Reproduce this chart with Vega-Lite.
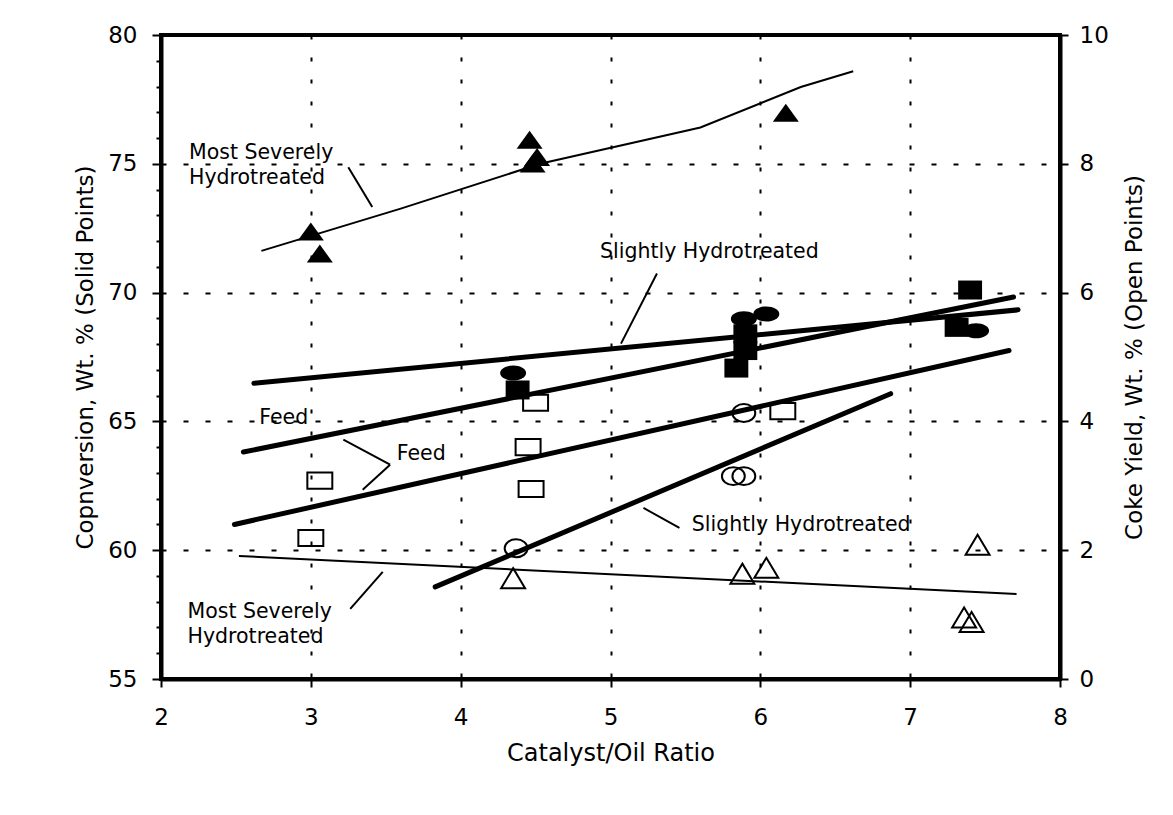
{
  "$schema": "https://vega.github.io/schema/vega-lite/v6.json",
  "width": 899,
  "height": 644,
  "autosize": {"type": "none"},
  "padding": {"left": 161, "top": 35, "right": 113, "bottom": 136},
  "background": "white",
  "config": {
    "font": "DejaVu Sans",
    "view": {"stroke": "black", "strokeWidth": 4},
    "axis": {
      "domainColor": "black",
      "domainWidth": 4,
      "tickColor": "black",
      "tickWidth": 2,
      "labelColor": "black",
      "labelFont": "DejaVu Sans",
      "labelFontSize": 23,
      "titleColor": "black",
      "titleFont": "DejaVu Sans",
      "titleFontSize": 23,
      "titleFontWeight": "normal",
      "gridColor": "black",
      "gridWidth": 2,
      "labelFlush": false,
      "labelOverlap": false,
      "labelBound": false
    }
  },
  "datasets": {
    "solid": [
      {"series": "Feed", "ratio": 4.38, "conversion": 66.22},
      {"series": "Feed", "ratio": 5.84, "conversion": 67.07},
      {"series": "Feed", "ratio": 5.9, "conversion": 67.75},
      {"series": "Feed", "ratio": 5.9, "conversion": 68.4},
      {"series": "Feed", "ratio": 7.31, "conversion": 68.65},
      {"series": "Feed", "ratio": 7.4, "conversion": 70.1},
      {"series": "Slightly Hydrotreated", "ratio": 4.35, "conversion": 66.88},
      {"series": "Slightly Hydrotreated", "ratio": 5.89, "conversion": 68.98},
      {"series": "Slightly Hydrotreated", "ratio": 6.04, "conversion": 69.17},
      {"series": "Slightly Hydrotreated", "ratio": 7.44, "conversion": 68.52},
      {"series": "Most Severely Hydrotreated", "ratio": 3.0, "conversion": 72.36},
      {"series": "Most Severely Hydrotreated", "ratio": 3.06, "conversion": 71.5},
      {"series": "Most Severely Hydrotreated", "ratio": 4.46, "conversion": 75.92},
      {"series": "Most Severely Hydrotreated", "ratio": 4.51, "conversion": 75.25},
      {"series": "Most Severely Hydrotreated", "ratio": 4.48, "conversion": 75.0},
      {"series": "Most Severely Hydrotreated", "ratio": 6.17, "conversion": 76.97}
    ],
    "open": [
      {"series": "Feed", "ratio": 3.0, "coke": 2.19},
      {"series": "Feed", "ratio": 3.06, "coke": 3.08},
      {"series": "Feed", "ratio": 4.45, "coke": 3.6},
      {"series": "Feed", "ratio": 4.47, "coke": 2.95},
      {"series": "Feed", "ratio": 4.5, "coke": 4.29},
      {"series": "Feed", "ratio": 6.15, "coke": 4.16},
      {"series": "Slightly Hydrotreated", "ratio": 4.37, "coke": 2.03},
      {"series": "Slightly Hydrotreated", "ratio": 5.82, "coke": 3.15},
      {"series": "Slightly Hydrotreated", "ratio": 5.89, "coke": 3.15},
      {"series": "Slightly Hydrotreated", "ratio": 5.89, "coke": 4.13},
      {"series": "Most Severely Hydrotreated", "ratio": 4.35, "coke": 1.56},
      {"series": "Most Severely Hydrotreated", "ratio": 5.88, "coke": 1.63},
      {"series": "Most Severely Hydrotreated", "ratio": 6.04, "coke": 1.72},
      {"series": "Most Severely Hydrotreated", "ratio": 7.36, "coke": 0.95},
      {"series": "Most Severely Hydrotreated", "ratio": 7.41, "coke": 0.88},
      {"series": "Most Severely Hydrotreated", "ratio": 7.45, "coke": 2.08}
    ],
    "convFit": [
      {"series": "Feed", "ratio": 2.55, "conversion": 63.81},
      {"series": "Feed", "ratio": 7.69, "conversion": 69.83},
      {"series": "Slightly Hydrotreated", "ratio": 2.62, "conversion": 66.48},
      {"series": "Slightly Hydrotreated", "ratio": 7.72, "conversion": 69.33},
      {"series": "Most Severely Hydrotreated", "ratio": 2.67, "conversion": 71.62},
      {"series": "Most Severely Hydrotreated", "ratio": 3.6, "conversion": 73.26},
      {"series": "Most Severely Hydrotreated", "ratio": 4.53, "conversion": 75.0},
      {"series": "Most Severely Hydrotreated", "ratio": 5.6, "conversion": 76.41},
      {"series": "Most Severely Hydrotreated", "ratio": 6.27, "conversion": 77.98},
      {"series": "Most Severely Hydrotreated", "ratio": 6.62, "conversion": 78.59}
    ],
    "cokeFit": [
      {"series": "Feed", "ratio": 2.49, "coke": 2.4},
      {"series": "Feed", "ratio": 7.66, "coke": 5.1},
      {"series": "Slightly Hydrotreated", "ratio": 3.83, "coke": 1.43},
      {"series": "Slightly Hydrotreated", "ratio": 6.87, "coke": 4.43},
      {"series": "Most Severely Hydrotreated", "ratio": 2.52, "coke": 1.91},
      {"series": "Most Severely Hydrotreated", "ratio": 7.71, "coke": 1.32}
    ],
    "notes": [
      {"text": "Most Severely\nHydrotreated", "ratio": 2.187, "conversion": 75.4},
      {"text": "Slightly Hydrotreated", "ratio": 4.93, "conversion": 71.58},
      {"text": "Feed", "ratio": 2.656, "conversion": 65.13},
      {"text": "Feed", "ratio": 3.574, "conversion": 63.73},
      {"text": "Slightly Hydrotreated", "ratio": 5.543, "conversion": 60.96},
      {"text": "Most Severely\nHydrotreated", "ratio": 2.177, "conversion": 57.62}
    ],
    "leaders": [
      {"ratio": 3.25, "conversion": 74.87, "ratio2": 3.41, "conversion2": 73.32},
      {"ratio": 5.31, "conversion": 70.74, "ratio2": 5.07, "conversion2": 68.02},
      {"ratio": 3.217, "conversion": 64.29, "ratio2": 3.529, "conversion2": 63.32},
      {"ratio": 3.529, "conversion": 63.32, "ratio2": 3.346, "conversion2": 62.35},
      {"ratio": 5.22, "conversion": 61.64, "ratio2": 5.46, "conversion2": 60.87},
      {"ratio": 3.263, "conversion": 57.72, "ratio2": 3.48, "conversion2": 59.16}
    ]
  },
  "layer": [
    {
      "layer": [
        {
          "data": {"name": "convFit"},
          "transform": [{"filter": "datum.series !== 'Most Severely Hydrotreated'"}],
          "mark": {"type": "line", "color": "black", "strokeWidth": 5, "strokeCap": "round"},
          "encoding": {
            "x": {
              "field": "ratio",
              "type": "quantitative",
              "scale": {"domain": [2, 8], "nice": false},
              "axis": {
                "values": [2, 2.5, 3, 3.5, 4, 4.5, 5, 5.5, 6, 6.5, 7, 7.5, 8],
                "tickCount": 20,
                "format": "d",
                "labelExpr": "datum.value % 1 === 0 ? datum.label : ''",
                "labelOverlap": false,
                "tickSize": 8,
                "labelPadding": 19,
                "grid": true,
                "gridDash": [4, 18],
                "gridOpacity": {"condition": {"test": "datum.value % 1 === 0", "value": 1}, "value": 0},
                "title": "Catalyst/Oil Ratio",
                "titleFontSize": 24,
                "titlePadding": 12
              }
            },
            "y": {
              "field": "conversion",
              "type": "quantitative",
              "scale": {"domain": [55, 80], "nice": false, "zero": false},
              "axis": {
                "values": [55, 56, 57, 58, 59, 60, 61, 62, 63, 64, 65, 66, 67, 68, 69, 70, 71, 72, 73, 74, 75, 76, 77, 78, 79, 80],
                "tickCount": 30,
                "format": "d",
                "labelExpr": "datum.value % 5 === 0 ? datum.label : ''",
                "labelOverlap": false,
                "tickSize": {"condition": {"test": "datum.value % 5 === 0", "value": 9}, "value": 5},
                "labelPadding": 15,
                "grid": true,
                "gridDash": [5, 17],
                "gridOpacity": {"condition": {"test": "datum.value % 5 === 0", "value": 1}, "value": 0},
                "title": "Copnversion, Wt. % (Solid Points)",
                "titlePadding": 10
              }
            },
            "detail": {"field": "series", "type": "nominal"}
          }
        },
        {
          "data": {"name": "convFit"},
          "transform": [{"filter": "datum.series === 'Most Severely Hydrotreated'"}],
          "mark": {"type": "line", "color": "black", "strokeWidth": 2},
          "encoding": {
            "x": {"field": "ratio", "type": "quantitative", "scale": {"domain": [2, 8], "nice": false}},
            "y": {"field": "conversion", "type": "quantitative", "scale": {"domain": [55, 80], "nice": false, "zero": false}}
          }
        },
        {
          "data": {"name": "solid"},
          "mark": {"type": "point", "filled": true, "color": "black", "opacity": 1, "size": 676},
          "encoding": {
            "x": {"field": "ratio", "type": "quantitative", "scale": {"domain": [2, 8], "nice": false}},
            "y": {"field": "conversion", "type": "quantitative", "scale": {"domain": [55, 80], "nice": false, "zero": false}},
            "shape": {
              "field": "series",
              "type": "nominal",
              "scale": {
                "domain": ["Feed", "Slightly Hydrotreated", "Most Severely Hydrotreated"],
                "range": [
                  "M-0.92,-0.73H0.92V0.73H-0.92Z",
                  "M-1,0A1,0.58,0,1,0,1,0A1,0.58,0,1,0,-1,0Z",
                  "M0,-0.72L1,0.66L-1,0.66Z"
                ]
              },
              "legend": null
            }
          }
        },
        {
          "data": {"name": "leaders"},
          "mark": {"type": "rule", "color": "black", "strokeWidth": 2},
          "encoding": {
            "x": {"field": "ratio", "type": "quantitative", "scale": {"domain": [2, 8], "nice": false}},
            "y": {"field": "conversion", "type": "quantitative", "scale": {"domain": [55, 80], "nice": false, "zero": false}},
            "x2": {"field": "ratio2"},
            "y2": {"field": "conversion2"}
          }
        },
        {
          "data": {"name": "notes"},
          "mark": {"type": "text", "align": "left", "baseline": "middle", "fontSize": 20.5, "lineBreak": "\n", "lineHeight": 25, "color": "black", "font": "DejaVu Sans"},
          "encoding": {
            "x": {"field": "ratio", "type": "quantitative", "scale": {"domain": [2, 8], "nice": false}},
            "y": {"field": "conversion", "type": "quantitative", "scale": {"domain": [55, 80], "nice": false, "zero": false}},
            "text": {"field": "text"}
          }
        }
      ]
    },
    {
      "layer": [
        {
          "data": {"name": "cokeFit"},
          "transform": [{"filter": "datum.series !== 'Most Severely Hydrotreated'"}],
          "mark": {"type": "line", "color": "black", "strokeWidth": 5, "strokeCap": "round"},
          "encoding": {
            "x": {"field": "ratio", "type": "quantitative", "scale": {"domain": [2, 8], "nice": false}},
            "y": {
              "field": "coke",
              "type": "quantitative",
              "scale": {"domain": [0, 10], "nice": false},
              "axis": {
                "orient": "right",
                "values": [0, 2, 4, 6, 8, 10],
                "tickCount": 10,
                "format": "d",
                "tickSize": 8,
                "labelPadding": 11,
                "grid": false,
                "title": "Coke Yield, Wt. % (Open Points)",
                "titleAngle": -90,
                "titleBaseline": "top",
                "titlePadding": 15
              }
            },
            "detail": {"field": "series", "type": "nominal"}
          }
        },
        {
          "data": {"name": "cokeFit"},
          "transform": [{"filter": "datum.series === 'Most Severely Hydrotreated'"}],
          "mark": {"type": "line", "color": "black", "strokeWidth": 2},
          "encoding": {
            "x": {"field": "ratio", "type": "quantitative", "scale": {"domain": [2, 8], "nice": false}},
            "y": {"field": "coke", "type": "quantitative", "scale": {"domain": [0, 10], "nice": false}}
          }
        },
        {
          "data": {"name": "open"},
          "mark": {"type": "point", "filled": false, "color": "black", "strokeWidth": 2, "opacity": 1, "size": 676},
          "encoding": {
            "x": {"field": "ratio", "type": "quantitative", "scale": {"domain": [2, 8], "nice": false}},
            "y": {"field": "coke", "type": "quantitative", "scale": {"domain": [0, 10], "nice": false}},
            "shape": {
              "field": "series",
              "type": "nominal",
              "scale": {
                "domain": ["Feed", "Slightly Hydrotreated", "Most Severely Hydrotreated"],
                "range": [
                  "M-0.96,-0.62H0.96V0.62H-0.96Z",
                  "M-0.88,0A0.88,0.69,0,1,0,0.88,0A0.88,0.69,0,1,0,-0.88,0Z",
                  "M0,-0.8L0.92,0.74L-0.92,0.74Z"
                ]
              },
              "legend": null
            }
          }
        }
      ]
    }
  ],
  "resolve": {"scale": {"y": "independent", "shape": "independent"}}
}
